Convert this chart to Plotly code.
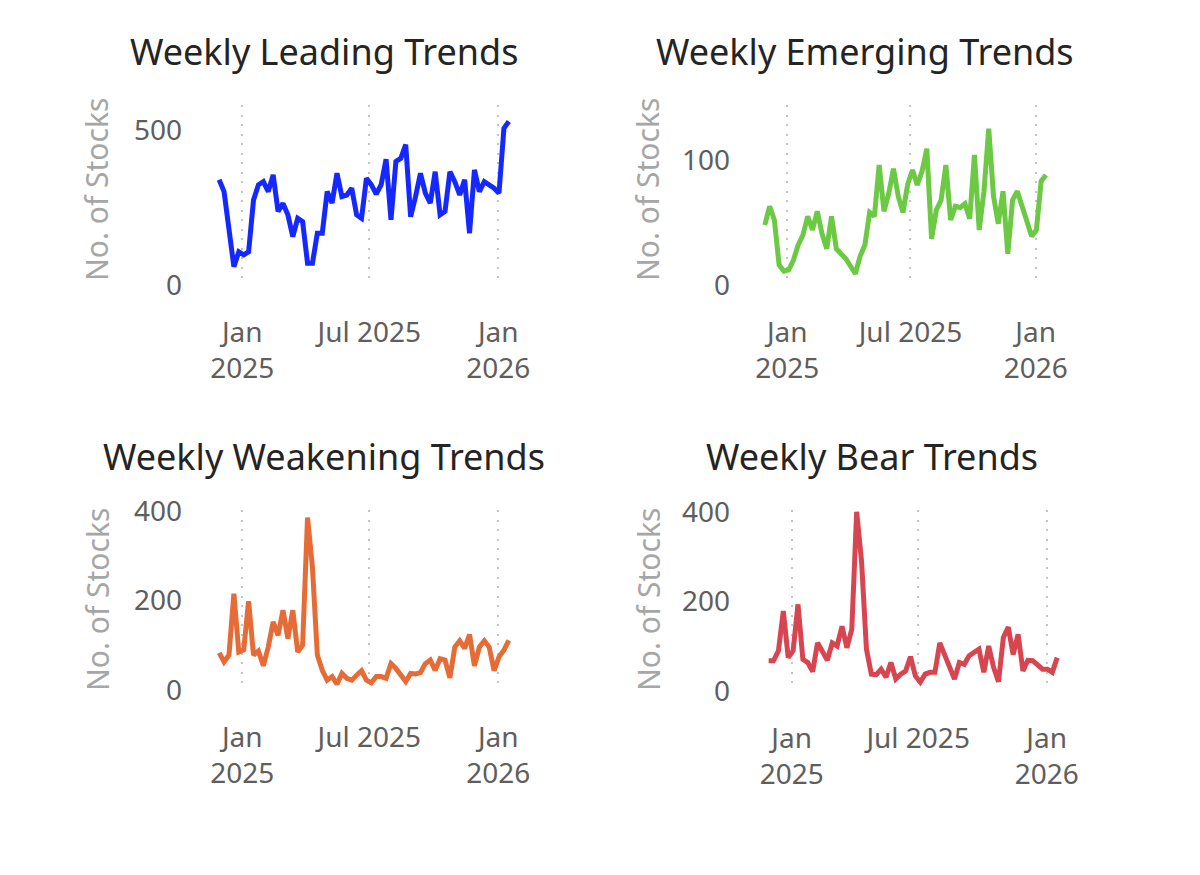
import datetime as dt
import plotly.graph_objects as go

# ---------------- data ----------------
start_date = "2024-11-29"
n_weeks = 60

leading = [339, 301, 180, 59, 107, 97, 107, 274, 323, 333, 301, 355, 237, 263, 226, 156,
           215, 204, 70, 70, 167, 167, 301, 264, 360, 285, 290, 312, 226, 215, 344, 323,
           293, 323, 405, 210, 398, 408, 452, 220, 285, 360, 296, 264, 365, 226, 237, 365,
           333, 290, 339, 167, 371, 301, 333, 323, 312, 296, 505, 527]

emerging = [48, 63, 52, 16, 11, 12, 20, 32, 40, 55, 44, 59, 41, 29, 55, 29, 25, 21, 15, 9,
            23, 32, 58, 55, 96, 59, 73, 93, 71, 58, 81, 92, 80, 91, 109, 37, 60, 68, 96, 52,
            63, 62, 65, 53, 104, 44, 75, 125, 71, 49, 75, 25, 68, 75, 63, 51, 39, 44, 83, 88]

weakening = [83, 63, 78, 215, 85, 90, 198, 78, 87, 54, 96, 152, 122, 178, 115, 178, 85, 100,
             385, 274, 78, 44, 22, 30, 13, 37, 26, 22, 33, 43, 22, 16, 30, 30, 26, 59, 48, 33,
             19, 37, 36, 39, 59, 67, 44, 70, 67, 27, 96, 110, 93, 124, 54, 96, 110, 96, 43,
             74, 89, 111]

bear = [67, 67, 89, 178, 74, 89, 193, 70, 63, 43, 107, 89, 68, 107, 100, 144, 96, 137, 400,
        289, 93, 37, 36, 48, 30, 63, 26, 37, 44, 76, 33, 19, 37, 41, 41, 107, 78, 52, 26, 63,
        59, 78, 85, 93, 41, 100, 52, 20, 119, 142, 81, 126, 44, 68, 67, 59, 48, 48, 41, 74]

titles = ["Weekly Leading Trends", "Weekly Emerging Trends",
          "Weekly Weakening Trends", "Weekly Bear Trends"]
y_title = "No. of Stocks"
x_tickvals = ["2025-01-01", "2025-07-01", "2026-01-01"]
x_ticktext = ["Jan<br>2025", "Jul 2025", "Jan<br>2026"]
y_tickvals = [[0, 500], [0, 100], [0, 200, 400], [0, 200, 400]]

# ---------------- layout helpers ----------------
W, H = 1200, 875
OFF = 8  # page body margin in the browser
FONT = "Noto Sans"
d0 = dt.date.fromisoformat(start_date)
dates = [(d0 + dt.timedelta(days=7 * i)).isoformat() for i in range(n_weeks)]

series = [leading, emerging, weakening, bear]
colors = ["#1428FF", "#6BC944", "#E66C37", "#D64550"]


def fx(px):
    return (px - OFF) / W


def fy(py):
    return 1 - (py - OFF) / H


# panel geometry in screen pixels
panels = [
    dict(x=(183, 520), j25=242.3, j26=498.3, y=(105, 285), ymax=580),
    dict(x=(731, 1065), j25=787.3, j26=1035.7, y=(105, 285), ymax=144),
    dict(x=(183, 520), j25=242.3, j26=498.3, y=(510, 690), ymax=402),
    dict(x=(731, 1070), j25=791.7, j26=1046.7, y=(510, 690.7), ymax=404),
]
title_pos = [(324, 51), (865, 51), (324, 456), (872, 456)]
ytitle_pos = [(97, 190), (648, 190), (97, 600), (648, 600)]

fig = go.Figure()
jan25 = dt.datetime(2025, 1, 1)
jan26 = dt.datetime(2026, 1, 1)
span_days = (jan26 - jan25).days

for i, p in enumerate(panels):
    k = "" if i == 0 else str(i + 1)
    fig.add_trace(go.Scatter(
        x=dates, y=series[i], mode="lines",
        line=dict(color=colors[i], width=5),
        xaxis="x" + k, yaxis="y" + k, showlegend=False, hoverinfo="x+y"))
    ppd = (p["j26"] - p["j25"]) / span_days
    r0 = jan25 - dt.timedelta(days=(p["j25"] - p["x"][0]) / ppd)
    r1 = jan26 + dt.timedelta(days=(p["x"][1] - p["j26"]) / ppd)
    fig.layout["xaxis" + k] = dict(
        domain=[fx(p["x"][0]), fx(p["x"][1])],
        range=[r0.isoformat(), r1.isoformat()],
        anchor="y" + k, type="date", automargin=False,
        tickvals=x_tickvals, ticktext=x_ticktext,
        showgrid=True, gridcolor="#C4C4C4", griddash="2px,7.5px", gridwidth=2,
        showline=False, zeroline=False, ticks="",
        ticklabelstandoff=28,
        tickfont=dict(family=FONT, size=28, color="#605E5C"),
    )
    fig.layout["yaxis" + k] = dict(
        domain=[fy(p["y"][1]), fy(p["y"][0])],
        range=[0, p["ymax"]], anchor="x" + k, automargin=False,
        tickvals=y_tickvals[i], showgrid=False, zeroline=False, showline=False, ticks="",
        tickfont=dict(family=FONT, size=28, color="#605E5C"),
    )
    fig.add_annotation(text=titles[i], x=fx(title_pos[i][0]), y=fy(title_pos[i][1]),
                       xref="paper", yref="paper", showarrow=False,
                       xanchor="center", yanchor="middle",
                       font=dict(family=FONT, size=36, color="#252423"))
    fig.add_annotation(text=y_title, x=fx(ytitle_pos[i][0]), y=fy(ytitle_pos[i][1]),
                       xref="paper", yref="paper", showarrow=False, textangle=-90,
                       xanchor="center", yanchor="middle",
                       font=dict(family=FONT, size=30, color="#A6A6A6"))

fig.update_layout(template="none", width=W, height=H,
                  margin=dict(l=0, r=0, t=0, b=0, pad=0, autoexpand=False),
                  paper_bgcolor="white", plot_bgcolor="white",
                  font=dict(family=FONT))
fig.write_html("out.html")
